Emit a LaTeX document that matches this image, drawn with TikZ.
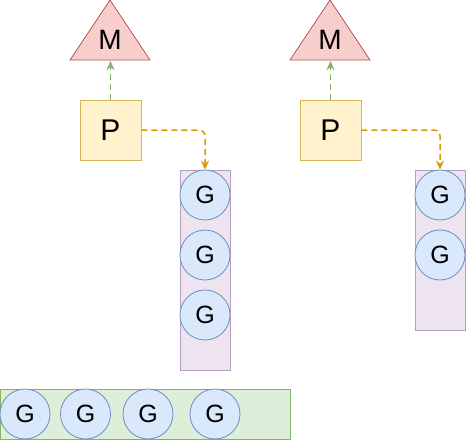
\documentclass[tikz,border=0pt]{standalone}
\usepackage{fontspec}
\setmainfont{Liberation Sans}
\usetikzlibrary{arrows.meta}

\definecolor{mfill}{HTML}{F8CECC}
\definecolor{mline}{HTML}{B85450}
\definecolor{pfill}{HTML}{FFF2CC}
\definecolor{pline}{HTML}{D6B656}
\definecolor{gfill}{HTML}{DAE8FC}
\definecolor{gline}{HTML}{6C8EBF}
\definecolor{qfill}{HTML}{EDE4F0}
\definecolor{qline}{HTML}{B3A0C0}
\definecolor{gqfill}{HTML}{DDEED9}
\definecolor{gqline}{HTML}{82B366}
\definecolor{oline}{HTML}{D79B00}

\begin{document}
\begin{tikzpicture}[x=1pt, y=-1pt,
  mtri/.style={fill=mfill, draw=mline, line width=0.8pt},
  mlabel/.style={font=\fontsize{28}{32}\selectfont, inner sep=0pt},
  pbox/.style={draw=pline, fill=pfill, line width=0.8pt, minimum width=61pt,
    minimum height=60pt, inner sep=0pt, font=\fontsize{30}{34}\selectfont},
  gcirc/.style={circle, draw=gline, fill=gfill, line width=0.8pt, minimum size=50pt,
    inner sep=0pt, font=\fontsize{25}{28}\selectfont},
  queue/.style={draw=qline, fill=qfill, line width=0.8pt, minimum width=50pt, inner sep=0pt},
  gqueue/.style={draw=gqline, fill=gqfill, line width=0.8pt, minimum width=290pt,
    minimum height=50pt, inner sep=0pt},
  garrow/.style={draw=gqline, line width=1.5pt, dash pattern=on 6pt off 4pt,
    -{Stealth[length=9pt,width=8pt]}},
  oarrow/.style={draw=oline, line width=1.5pt, dash pattern=on 6pt off 4pt,
    rounded corners=6pt, -{Stealth[length=9pt,width=8pt]}}
]
\useasboundingbox (0,0) rectangle (466,440);

% left M / P
\filldraw[mtri] (70,60) -- (110,0) -- (150,60) -- cycle;
\node[mlabel] (m1) at (110,40) {M};
\coordinate (m1b) at (110.5,61);
\node[pbox] (p1) at (110.5,130) {P};

% right M / P
\filldraw[mtri] (290,60) -- (330,0) -- (370,60) -- cycle;
\node[mlabel] (m2) at (330,40) {M};
\coordinate (m2b) at (330.5,61);
\node[pbox] (p2) at (330.5,130) {P};

% local queues
\node[queue, minimum height=200pt] (q1) at (205,270) {};
\node[gcirc] (g11) at (205,195) {G};
\node[gcirc] (g12) at (205,255) {G};
\node[gcirc] (g13) at (205,315) {G};

\node[queue, minimum height=160pt] (q2) at (440,250) {};
\node[gcirc] (g21) at (440,195) {G};
\node[gcirc] (g22) at (440,255) {G};

% global queue
\node[gqueue] (gq) at (145,414.5) {};
\node[gcirc] (g31) at (25,414) {G};
\node[gcirc] (g32) at (85.5,414) {G};
\node[gcirc] (g33) at (148,414) {G};
\node[gcirc] (g34) at (215,414) {G};

% connectors
\draw[garrow] (p1.north) -- (m1b);
\draw[garrow] (p2.north) -- (m2b);
\draw[oarrow] (p1.east) -| (q1.north);
\draw[oarrow] (p2.east) -| (q2.north);
\end{tikzpicture}
\end{document}
